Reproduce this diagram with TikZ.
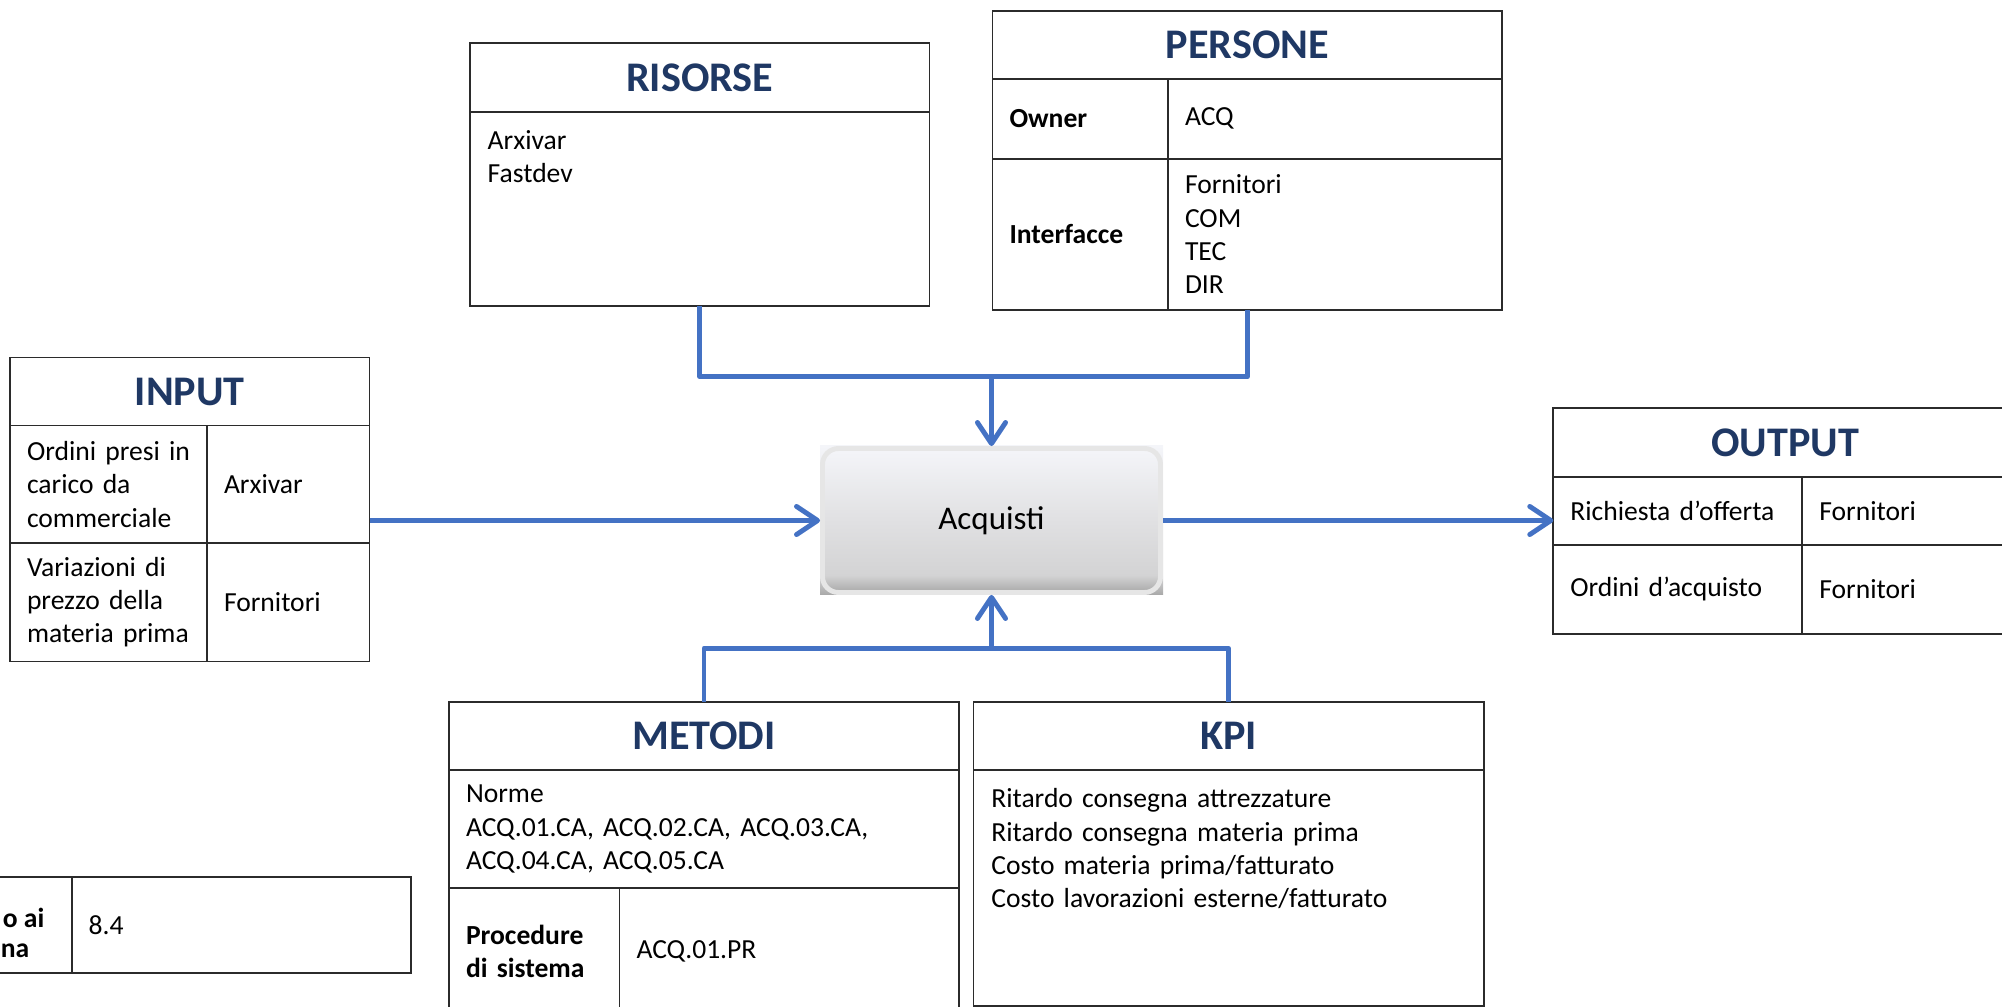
\documentclass[tikz,border=0pt]{standalone}
\usepackage{fontspec}
\setmainfont{Carlito}
\usepackage{tikz}
\usetikzlibrary{arrows.meta}
\usetikzlibrary{positioning}

\definecolor{headblue}{HTML}{1F3864}
\definecolor{flowblue}{HTML}{4472C4}
\definecolor{gridline}{HTML}{2B2B2B}
\definecolor{acqtop}{HTML}{F4F5F9}
\definecolor{acqmid}{HTML}{E2E2E4}
\definecolor{acqlow}{HTML}{D3D3D4}
\definecolor{acqbot}{HTML}{A8A8A8}
\definecolor{acqedge}{HTML}{E6E6E6}

\newcommand{\cellfont}{\fontsize{7.85}{9.5}\selectfont}
\newcommand{\headfont}{\fontsize{12}{14}\selectfont\bfseries}

\pgfdeclareverticalshading{acqshade}{100bp}{color(0bp)=(acqbot); color(25bp)=(acqbot); color(31bp)=(acqlow); color(52bp)=(acqmid); color(75bp)=(acqtop); color(100bp)=(acqtop)}

\tikzset{
  cell/.style 2 args={draw=gridline, line width=0.5pt, anchor=north west, inner xsep=0.17cm, inner ysep=0pt, outer sep=0pt,
    font=\cellfont, align=left, minimum width=#1, minimum height=#2, text width=#1-0.34cm},
  head/.style 2 args={cell={#1}{#2}, font=\headfont, text=headblue, align=center},
  toptext/.style={anchor=base west, font=\cellfont, align=left, inner sep=0pt, text width=#1, xshift=0.17cm, yshift=-0.375cm},
  flow/.style={draw=flowblue, line width=1.4pt, line join=round},
  flowtip/.style={-{Straight Barb[length=6pt,width=8pt,line cap=round,line join=round]}},
}

\begin{document}
\begin{tikzpicture}
    \useasboundingbox (0,0) rectangle (20.02,10.07);
    \clip (0,0) rectangle (20.02,10.07);

    % input
    \node(in-head) [head={3.595cm}{0.68cm}] at (0.10,6.495) {INPUT};
    \node(in-1a) [cell={1.97cm}{1.175cm}] at (in-head.south west) {Ordini presi in\\carico da\\commerciale};
    \node(in-1b) [cell={1.625cm}{1.175cm}] at (in-1a.north east) {Arxivar};
    \node(in-2a) [cell={1.97cm}{1.185cm}] at (in-1a.south west) {Variazioni di\\prezzo della\\materia prima};
    \node(in-2b) [cell={1.625cm}{1.185cm}] at (in-2a.north east) {Fornitori};

    % risorse
    \node(ris-head) [head={4.595cm}{0.684cm}] at (4.70,9.637) {RISORSE};
    \node(ris-body) [cell={4.595cm}{1.943cm}] at (ris-head.south west) {};
    \node(ris-txt) [toptext=4cm] at (ris-body.north west) {Arxivar\\Fastdev};

    % persone
    \node(per-head) [head={5.098cm}{0.68cm}] at (9.925,9.96) {PERSONE};
    \node(per-own) [cell={1.755cm}{0.797cm}, font=\cellfont\bfseries] at (per-head.south west) {Owner};
    \node(per-ownv) [cell={3.343cm}{0.797cm}] at (per-own.north east) {ACQ};
    \node(per-int) [cell={1.755cm}{1.513cm}, font=\cellfont\bfseries] at (per-own.south west) {Interfacce};
    \node(per-intv) [cell={3.343cm}{1.513cm}] at (per-int.north east) {Fornitori\\COM\\TEC\\DIR};

    % process
    \node(acq-back) [shading=acqshade, minimum width=3.43cm, minimum height=1.49cm, inner sep=0pt] at (9.915,4.865) {};
    \node(acq) [shading=acqshade, draw=acqedge, line width=1.4pt, rounded corners=0.16cm,
      minimum width=3.38cm, minimum height=1.44cm, font=\fontsize{9.4}{11}\selectfont] at (acq-back) {Acquisti};

    % output
    \node(out-head) [head={4.637cm}{0.69cm}] at (15.533,5.987) {OUTPUT};
    \node(out-1a) [cell={2.49cm}{0.677cm}] at (out-head.south west) {Richiesta d’offerta};
    \node(out-1b) [cell={2.147cm}{0.677cm}] at (out-1a.north east) {Fornitori};
    \node(out-2a) [cell={2.49cm}{0.89cm}] at (out-1a.south west) {Ordini d’acquisto};
    \node(out-2b) [cell={2.147cm}{0.89cm}] at (out-2a.north east) {Fornitori};

    % metodi
    \node(met-head) [head={5.10cm}{0.683cm}] at (4.49,3.05) {METODI};
    \node(met-norme) [cell={5.10cm}{1.18cm}] at (met-head.south west) {Norme\\ACQ.01.CA, ACQ.02.CA, ACQ.03.CA,\\ACQ.04.CA, ACQ.05.CA};
    \node(met-proc) [cell={1.705cm}{1.257cm}, font=\cellfont\bfseries] at (met-norme.south west) {Procedure\\di sistema};
    \node(met-procv) [cell={3.395cm}{1.257cm}] at (met-proc.north east) {ACQ.01.PR};

    % kpi
    \node(kpi-head) [head={5.104cm}{0.683cm}] at (9.736,3.05) {KPI};
    \node(kpi-body) [cell={5.104cm}{2.357cm}] at (kpi-head.south west) {};
    \node(kpi-txt) [toptext=4.6cm] at (kpi-body.north west) {Ritardo consegna attrezzature\\Ritardo consegna materia prima\\Costo materia prima/fatturato\\Costo lavorazioni esterne/fatturato};

    % riferimento (cut at the border)
    \node(ref-lab) [cell={2.217cm}{0.954cm}] at (-1.5,1.297) {};
    \node(ref-val) [cell={3.39cm}{0.954cm}] at (ref-lab.north east) {8.4};
    \node(ref-l1) [anchor=base east, font=\cellfont\bfseries, inner sep=0pt] at (0.45,0.79) {o ai};
    \node(ref-l2) [anchor=base east, font=\cellfont\bfseries, inner sep=0pt] at (0.30,0.49) {na};

    % connectors
    \coordinate (top-bus) at (0,6.303);
    \coordinate (bot-bus) at (0,3.587);
    \draw[flow] (ris-body.south) |- (per-head.south |- top-bus) -- (per-head.south |- per-int.south);
    \draw[flow, flowtip] (acq.north |- top-bus) -- (acq.north);
    \draw[flow] (met-head.north) |- (kpi-head.north |- bot-bus) -- (kpi-head.north);
    \draw[flow, flowtip] (acq.south |- bot-bus) -- (acq.south);
    \draw[flow, flowtip] (acq.west -| in-head.east) -- (acq.west);
    \draw[flow, flowtip] (acq.east) -- (acq.east -| out-head.west);
\end{tikzpicture}
\end{document}
